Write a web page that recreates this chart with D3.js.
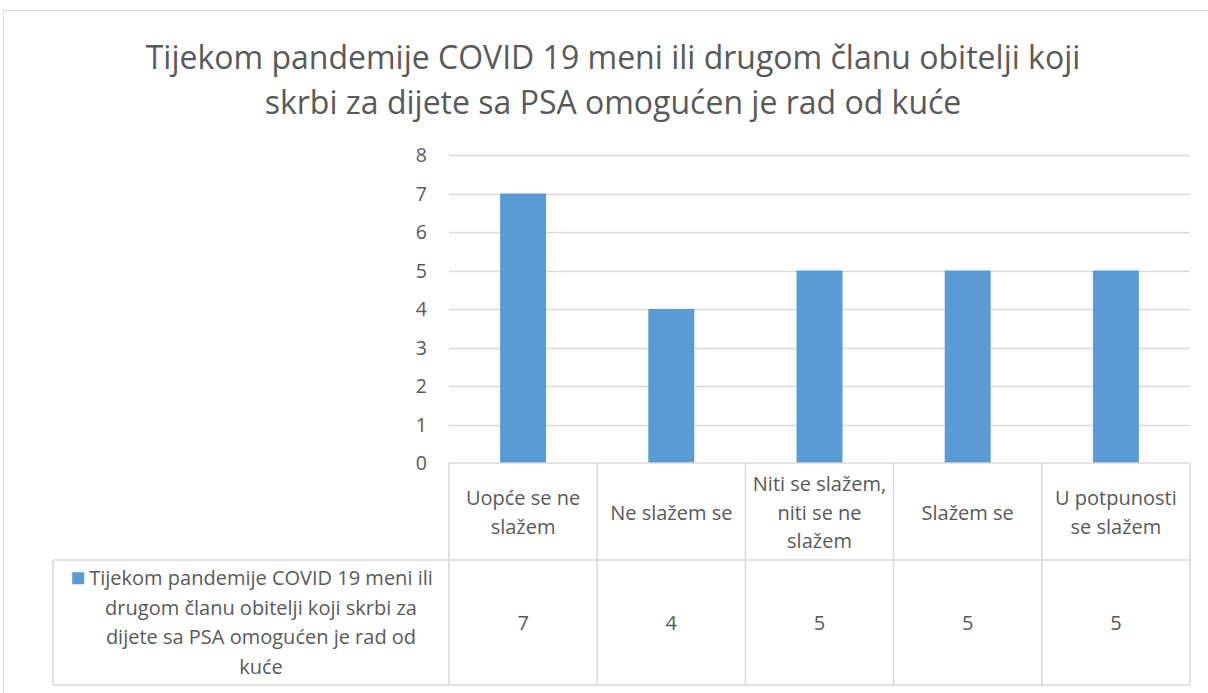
<!DOCTYPE html>
<html>
<head>
<meta charset="utf-8">
<script src="https://cdn.jsdelivr.net/npm/d3@7"></script>
<style>
  body { margin: 0; background: #fff; }
  text { font-family: "Open Sans", "Noto Sans", sans-serif; fill: #595959; }
</style>
</head>
<body>
<div id="chart"></div>
<script>
// data
const titleLines = ['Tijekom pandemije COVID 19 meni ili drugom članu obitelji koji',
  'skrbi za dijete sa PSA omogućen je rad od kuće'];
const categories = ['Uopće se ne slažem', 'Ne slažem se', 'Niti se slažem, niti se ne slažem', 'Slažem se', 'U potpunosti se slažem'];
const values = [7, 4, 5, 5, 5];
const seriesNameLines = ['Tijekom pandemije COVID 19 meni ili', 'drugom članu obitelji koji skrbi za',
  'dijete sa PSA omogućen je rad od', 'kuće'];
const yTicks = [0, 1, 2, 3, 4, 5, 6, 7, 8];

const width = 1208, height = 693;
const barColor = '#5B9BD5';
const gridColor = '#D9D9D9';

// layout
const plotLeft = 449, plotRight = 1190, plotTop = 155, plotBottom = 463;
const rowSplit = 560, tableBottom = 685, tableLeft = 53;
const fontSize = 20;

let svg = d3.select('#chart')
  .append('svg')
  .attr('width', width)
  .attr('height', height);

// chart border
svg.append('rect')
  .attr('x', 3.5).attr('y', 10.5)
  .attr('width', 1230).attr('height', 700)
  .attr('fill', 'none')
  .attr('stroke', gridColor);

// title
svg.append('g').selectAll('text')
  .data(titleLines)
  .join('text')
  .attr('x', 613)
  .attr('y', (d, i) => 69 + i * 45)
  .attr('text-anchor', 'middle')
  .style('font-size', '32px')
  .text(d => d);

let xScale = d3.scaleBand()
  .domain(categories)
  .range([plotLeft, plotRight])
  .paddingInner(0.69)
  .paddingOuter(0.345);

let colScale = d3.scaleBand()
  .domain(categories)
  .range([plotLeft, plotRight]);

let yScale = d3.scaleLinear()
  .domain([0, 8])
  .range([plotBottom, plotTop]);

// gridlines
svg.append('g').selectAll('line')
  .data(yTicks.filter(d => d > 0))
  .join('line')
  .attr('x1', plotLeft).attr('x2', plotRight)
  .attr('y1', d => Math.round(yScale(d)) + 0.5)
  .attr('y2', d => Math.round(yScale(d)) + 0.5)
  .attr('stroke', gridColor)
  .attr('stroke-width', 1.5);

// y axis labels
svg.append('g').selectAll('text')
  .data(yTicks)
  .join('text')
  .attr('x', 427)
  .attr('y', d => yScale(d))
  .attr('dy', '0.36em')
  .attr('text-anchor', 'end')
  .style('font-size', '19.5px')
  .text(d => d);

// bars
svg.append('g').selectAll('rect')
  .data(values)
  .join('rect')
  .attr('x', (d, i) => xScale(categories[i]))
  .attr('y', d => yScale(d))
  .attr('width', xScale.bandwidth())
  .attr('height', d => yScale(0) - yScale(d))
  .attr('fill', barColor);

// data table grid
let table = svg.append('g').attr('stroke', gridColor).attr('stroke-width', 1.5).attr('fill', 'none');
table.append('line').attr('x1', plotLeft).attr('x2', plotRight).attr('y1', plotBottom).attr('y2', plotBottom);
table.append('line').attr('x1', tableLeft).attr('x2', plotRight).attr('y1', rowSplit).attr('y2', rowSplit);
table.append('line').attr('x1', tableLeft).attr('x2', plotRight).attr('y1', tableBottom).attr('y2', tableBottom);
table.append('line').attr('x1', tableLeft).attr('x2', tableLeft).attr('y1', rowSplit).attr('y2', tableBottom);
table.selectAll('.vline')
  .data(categories.concat(['end']))
  .join('line')
  .attr('x1', (d, i) => plotLeft + i * colScale.step())
  .attr('x2', (d, i) => plotLeft + i * colScale.step())
  .attr('y1', plotBottom)
  .attr('y2', tableBottom);

// wrap words into lines no wider than maxWidth
function wrapLines(str, maxWidth, size) {
  let probe = svg.append('text').style('font-size', size + 'px');
  let words = str.split(' ');
  let lines = [];
  let line = '';
  words.forEach(w => {
    let test = line ? line + ' ' + w : w;
    probe.text(test);
    if (probe.node().getComputedTextLength() > maxWidth && line) {
      lines.push(line);
      line = w;
    } else {
      line = test;
    }
  });
  lines.push(line);
  probe.remove();
  return lines;
}

const lineH = 28.5;

// category header cells
categories.forEach(c => {
  let lines = wrapLines(c, colScale.bandwidth() - 4, fontSize);
  let cy = (plotBottom + rowSplit) / 2 + 1;
  svg.append('g').selectAll('text')
    .data(lines)
    .join('text')
    .attr('x', colScale(c) + colScale.bandwidth() / 2)
    .attr('y', (d, i) => cy + (i - (lines.length - 1) / 2) * lineH)
    .attr('dy', '0.36em')
    .attr('text-anchor', 'middle')
    .style('font-size', fontSize + 'px')
    .text(d => d);
});

// value cells
svg.append('g').selectAll('text')
  .data(values)
  .join('text')
  .attr('x', (d, i) => colScale(categories[i]) + colScale.bandwidth() / 2)
  .attr('y', (rowSplit + tableBottom) / 2)
  .attr('dy', '0.36em')
  .attr('text-anchor', 'middle')
  .style('font-size', fontSize + 'px')
  .text(d => d);

// legend cell
let legendCy = (rowSplit + tableBottom) / 2;
let legendX = 261;
let legendLineH = 29.5;
svg.append('g').selectAll('text')
  .data(seriesNameLines)
  .join('text')
  .attr('x', legendX)
  .attr('y', (d, i) => legendCy + (i - (seriesNameLines.length - 1) / 2) * legendLineH)
  .attr('dy', '0.36em')
  .attr('text-anchor', 'middle')
  .style('font-size', fontSize + 'px')
  .text(d => d);

// legend key square, placed before the first line
let firstLine = svg.append('text').style('font-size', fontSize + 'px').text(seriesNameLines[0]);
let firstW = firstLine.node().getComputedTextLength();
firstLine.remove();
svg.append('rect')
  .attr('x', legendX - firstW / 2 - 17)
  .attr('y', legendCy - (seriesNameLines.length - 1) / 2 * legendLineH - 6)
  .attr('width', 12)
  .attr('height', 12)
  .attr('fill', barColor);
</script>
</body>
</html>
